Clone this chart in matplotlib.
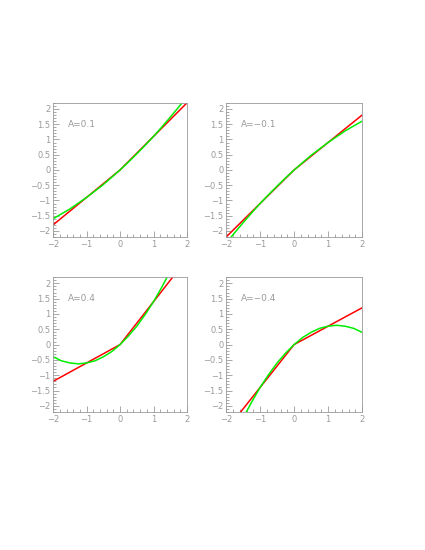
import matplotlib.pyplot as plt
from matplotlib.ticker import MultipleLocator

plt.rcParams['font.family'] = 'DejaVu Sans'
plt.rcParams['font.size'] = 6

# A values for each panel
a_vals = [0.1, -0.1, 0.4, -0.4]
a_labels = ['A=0.1', 'A=\u22120.1', 'A=0.4', 'A=\u22120.4']

# green curve samples
x_curve = [-2, -1.75, -1.5, -1.25, -1, -0.75, -0.5, -0.25, 0,
           0.25, 0.5, 0.75, 1, 1.25, 1.5, 1.75, 2]
green_p01 = [-1.6, -1.44, -1.28, -1.09, -0.9, -0.69, -0.48, -0.24, 0,
             0.26, 0.53, 0.81, 1.1, 1.41, 1.73, 2.06, 2.4]
green_m01 = [-2.4, -2.06, -1.73, -1.41, -1.1, -0.81, -0.53, -0.26, 0,
             0.24, 0.48, 0.69, 0.9, 1.09, 1.28, 1.44, 1.6]
green_p04 = [-0.4, -0.53, -0.6, -0.63, -0.6, -0.53, -0.4, -0.23, 0,
             0.28, 0.6, 0.98, 1.4, 1.88, 2.4, 2.98, 3.6]
green_m04 = [-3.6, -2.98, -2.4, -1.88, -1.4, -0.98, -0.6, -0.28, 0,
             0.23, 0.4, 0.53, 0.6, 0.63, 0.6, 0.53, 0.4]
greens = [green_p01, green_m01, green_p04, green_m04]

# red broken line
x_line = [-2, 0, 2]
red_p01 = [-1.8, 0, 2.2]
red_m01 = [-2.2, 0, 1.8]
red_p04 = [-1.2, 0, 2.8]
red_m04 = [-2.8, 0, 1.2]
reds = [red_p01, red_m01, red_p04, red_m04]

yticks = [-2, -1.5, -1, -0.5, 0, 0.5, 1, 1.5, 2]
ytick_labels = ['\u22122', '\u22121.5', '\u22121', '\u22120.5', '0', '0.5', '1', '1.5', '2']
xticks = [-2, -1, 0, 1, 2]
xtick_labels = ['\u22122', '\u22121', '0', '1', '2']

gray = '#9a9a9a'
fig = plt.figure(figsize=(4.25, 5.5), dpi=100)
boxes = [[0.125, 0.569, 0.315, 0.244],
         [0.532, 0.569, 0.320, 0.244],
         [0.125, 0.251, 0.315, 0.245],
         [0.532, 0.251, 0.320, 0.245]]

for i in range(4):
    ax = fig.add_axes(boxes[i])
    ax.plot(x_line, reds[i], color='#ff0000', lw=1.1)
    ax.plot(x_curve, greens[i], color='#00ee00', lw=1.1)
    ax.set_xlim(-2, 2)
    ax.set_ylim(-2.2, 2.2)
    ax.set_xticks(xticks)
    ax.set_xticklabels(xtick_labels)
    ax.set_yticks(yticks)
    ax.set_yticklabels(ytick_labels)
    ax.xaxis.set_minor_locator(MultipleLocator(0.2))
    ax.yaxis.set_minor_locator(MultipleLocator(0.1))
    ax.tick_params(which='both', direction='in', colors=gray, labelcolor=gray,
                   width=0.6, labelsize=6)
    ax.tick_params(which='major', length=4, pad=2)
    ax.tick_params(which='minor', length=2)
    for s in ax.spines.values():
        s.set_color(gray)
        s.set_linewidth(0.6)
    ax.text(-1.55, 1.5, a_labels[i], color=gray, fontsize=6.5, va='center')

plt.savefig('out.png', dpi=100)
